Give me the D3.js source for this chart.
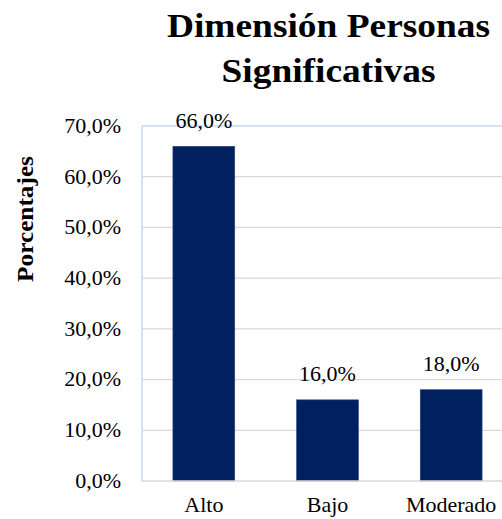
<!DOCTYPE html>
<html><head><meta charset="utf-8">
<script src="https://cdn.jsdelivr.net/npm/d3@7"></script>
<style>html,body{margin:0;padding:0;background:#fff;overflow:hidden}</style>
</head><body>
<svg id="c" width="502" height="519"></svg>
<script>
const categories = ["Alto", "Bajo", "Moderado"];
const values = [66.0, 16.0, 18.0];
const yTicks = [0, 10, 20, 30, 40, 50, 60, 70];
const titleLines = ["Dimensión Personas", "Significativas"];
const yTitle = "Porcentajes";

(function () {
const svg = d3.select("#c");
const FONT = "'Liberation Serif', 'Times New Roman', serif";
const fmt = v => v.toFixed(1).replace(".", ",") + "%";
const SX = 1.1;

const pl = 142, pr = 513, pt = 126, pb = 481;
const x = d3.scaleBand().domain(categories).range([pl, pr]).paddingInner(0.5).paddingOuter(0.25);
const y = d3.scaleLinear().domain([0, 70]).range([pb, pt]);

function txt(g, xx, yy, s, opts) {
  const t = g.append("text")
    .attr("transform", `translate(${xx},${yy}) ${opts.rot ? "rotate(-90)" : ""} scale(${opts.sx || SX},1)`)
    .attr("font-family", FONT)
    .attr("font-size", opts.size)
    .attr("font-weight", opts.bold ? "bold" : "normal")
    .attr("fill", "#000")
    .attr("text-anchor", opts.anchor || "middle")
    .text(s);
  if (opts.dy) t.attr("dy", opts.dy);
  return t;
}

// gridlines
svg.append("g").selectAll("line").data(yTicks.filter(d => d > 0 && d < 70)).join("line")
  .attr("x1", pl).attr("x2", 502)
  .attr("y1", d => y(d)).attr("y2", d => y(d))
  .attr("stroke", "#d9d9d9").attr("stroke-width", 1.3);

// plot border (top & left light blue)
svg.append("line").attr("x1", pl).attr("x2", 502).attr("y1", y(70)).attr("y2", y(70))
  .attr("stroke", "#c6d9f0").attr("stroke-width", 1.5);
svg.append("line").attr("x1", pl).attr("x2", pl).attr("y1", y(70)).attr("y2", y(0))
  .attr("stroke", "#c6d9f0").attr("stroke-width", 1.5);

// bars
svg.append("g").selectAll("rect").data(values).join("rect")
  .attr("x", (d, i) => x(categories[i]))
  .attr("width", x.bandwidth())
  .attr("y", d => y(d))
  .attr("height", d => y(0) - y(d))
  .attr("fill", "#002060")
  .attr("stroke", "#2a4580").attr("stroke-width", 0.6);

// x axis line
svg.append("line").attr("x1", pl).attr("x2", 502).attr("y1", y(0)).attr("y2", y(0))
  .attr("stroke", "#d9d9d9").attr("stroke-width", 1.5);

// y tick labels
const gt = svg.append("g");
yTicks.forEach(t => txt(gt, 121, y(t), fmt(t), {size: 20, anchor: "end", dy: "0.34em"}));

// value labels
const gv = svg.append("g");
values.forEach((v, i) => txt(gv, x(categories[i]) + x.bandwidth() / 2, y(v) - 18.5, fmt(v), {size: 20}));

// category labels
const gc = svg.append("g");
categories.forEach(c => txt(gc, x(c) + x.bandwidth() / 2, 512, c, {size: 20}));

// y title
txt(svg, 33, 219, yTitle, {size: 23, bold: true, rot: true});

// title
titleLines.forEach((l, i) => txt(svg, 328.5, 37 + i * 45, l, {size: 34, bold: true, sx: 1.1}));
})();
</script>
</body></html>
